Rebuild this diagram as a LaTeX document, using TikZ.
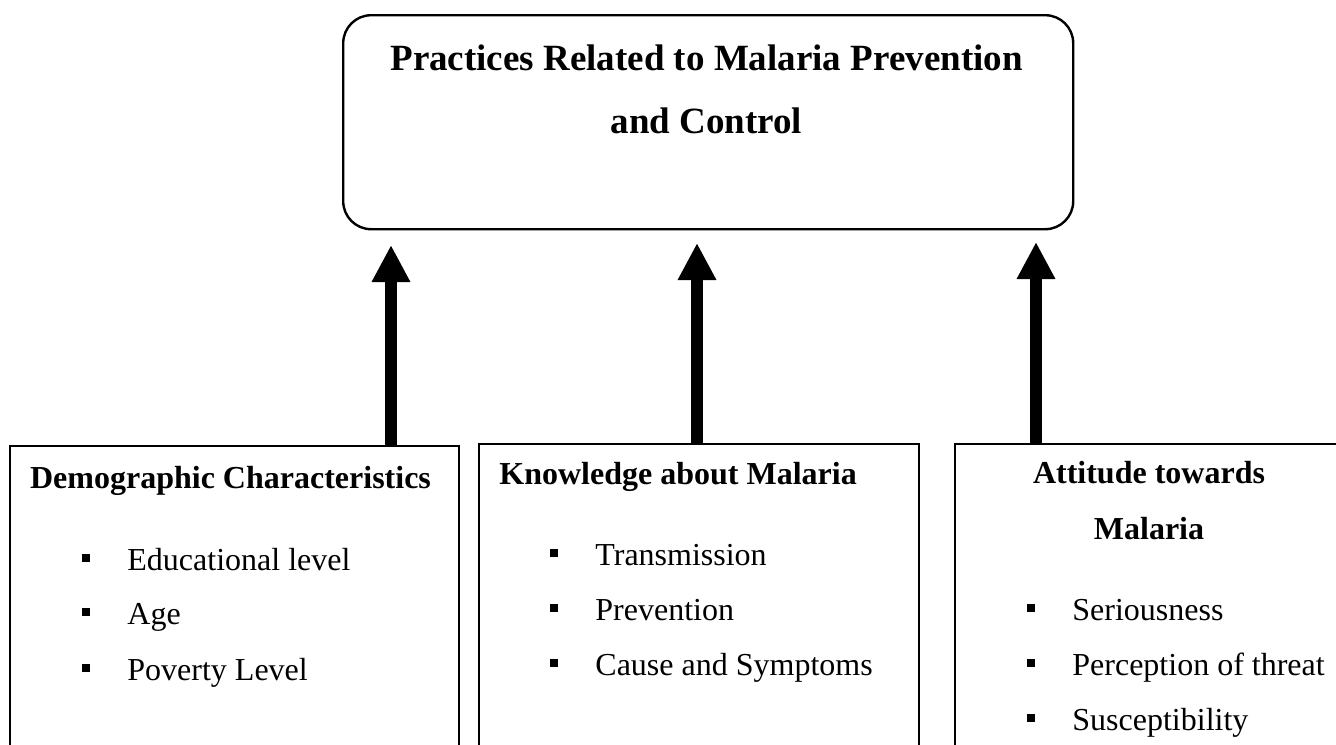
\documentclass[tikz,border=0pt]{standalone}
\usepackage{fontspec}
\setmainfont{Liberation Serif}
\usetikzlibrary{arrows.meta,positioning}

\begin{document}
\begin{tikzpicture}[
  x=0.5pt,y=-0.5pt,
  every node/.style={font=\fontsize{16}{27.5}\selectfont},
  kotak/.style={draw,line width=1.2pt,inner sep=0pt,anchor=north west},
  judul/.style={font=\fontsize{18.5}{31.5}\selectfont\bfseries,anchor=base},
  kepala/.style={font=\fontsize{16}{27.5}\selectfont\bfseries},
  butir/.style={anchor=base west,inner sep=0pt},
  titik/.style={fill,minimum size=4pt,inner sep=0pt},
  pil/.style={line width=5.8pt,-{Triangle[length=18.5pt,width=18pt]}}]

  % --- page frame, lower boxes run off the bottom and right edge
  \clip (0,0) rectangle (1336,744);

  % --- outcome box on top
  \node[kotak,rounded corners=14pt,minimum width=365pt,minimum height=107pt]
       (praktik) at (342,14) {};
  \node[judul] (jd1) at (706.5,70)  {Practices Related to Malaria Prevention};
  \node[judul] (jd2) at (706.5,133) {and Control};

  % --- Demographic Characteristics
  \node[kotak,minimum width=224.5pt,minimum height=180pt] (demo) at (9,445) {};
  \node[kepala,anchor=base] (demoK) at (230.5,488) {Demographic Characteristics};
  \node[titik] (d1) at (86,558) {};
    \node[butir] (demo1) at (127,570) {Educational level};
  \node[titik] (d2) at (86,612) {};
    \node[butir] (demo2) at (127,624) {Age};
  \node[titik] (d3) at (86,668) {};
    \node[butir] (demo3) at (127,680) {Poverty Level};

  % --- Knowledge about Malaria
  \node[kotak,minimum width=220pt,minimum height=180pt] (tahu) at (478,443) {};
  \node[kepala,anchor=base west,inner sep=0pt] (tahuK) at (499,484) {Knowledge about Malaria};
  \node[titik] (k1) at (554,553) {};
    \node[butir] (tahu1) at (595,565) {Transmission};
  \node[titik] (k2) at (554,608) {};
    \node[butir] (tahu2) at (595,620) {Prevention};
  \node[titik] (k3) at (554,663) {};
    \node[butir] (tahu3) at (595,675) {Cause and Symptoms};

  % --- Attitude towards Malaria
  \node[kotak,minimum width=196pt,minimum height=180pt] (sikap) at (954,443) {};
  \node[kepala,anchor=base] (sikapK1) at (1149,483) {Attitude towards};
  \node[kepala,anchor=base] (sikapK2) at (1149,539) {Malaria};
  \node[titik] (s1) at (1031,608) {};
    \node[butir] (sikap1) at (1072,620) {Seriousness};
  \node[titik] (s2) at (1031,663) {};
    \node[butir] (sikap2) at (1072,675) {Perception of threat};
  \node[titik] (s3) at (1031,718) {};
    \node[butir] (sikap3) at (1072,730) {Susceptibility};

  % --- arrow tips just under the outcome box
  \coordinate (u1) at (391,245);
  \coordinate (u2) at (697,243);
  \coordinate (u3) at (1036,242);

  \draw[pil] (demo.north -| u1)  -- (u1);
  \draw[pil] (tahu.north -| u2)  -- (u2);
  \draw[pil] (sikap.north -| u3) -- (u3);
\end{tikzpicture}
\end{document}
